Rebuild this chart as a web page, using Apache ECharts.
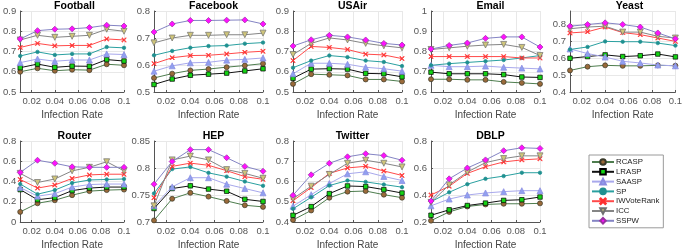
<!DOCTYPE html>
<html>
<head>
<meta charset="utf-8">
<script src="https://cdn.jsdelivr.net/npm/echarts@6/dist/echarts.min.js"></script>
<style>
  html, body { margin: 0; padding: 0; background: #fff; }
  #chart { width: 685px; height: 251px; }
</style>
</head>
<body>
<div id="chart"></div>
<script>
const infectionRate = [0.01, 0.025, 0.04, 0.055, 0.07, 0.085, 0.1];
const methods = ['RCASP', 'LRASP', 'SAASP', 'SP', 'IWVoteRank', 'ICC', 'SSPW'];
const datasetNames = ['Football', 'Facebook', 'USAir', 'Email', 'Yeast', 'Router', 'HEP', 'Twitter', 'DBLP'];

// rows follow the methods order: RCASP, LRASP, SAASP, SP, IWVoteRank, ICC, SSPW
const football = [
  [0.600, 0.617, 0.605, 0.610, 0.608, 0.637, 0.632],
  [0.620, 0.638, 0.622, 0.628, 0.627, 0.660, 0.653],
  [0.645, 0.663, 0.652, 0.658, 0.658, 0.688, 0.685],
  [0.678, 0.698, 0.683, 0.688, 0.688, 0.722, 0.718],
  [0.720, 0.740, 0.728, 0.730, 0.730, 0.762, 0.757],
  [0.757, 0.780, 0.770, 0.775, 0.780, 0.810, 0.800],
  [0.762, 0.803, 0.810, 0.812, 0.818, 0.830, 0.826]
];
const facebook = [
  [0.552, 0.568, 0.580, 0.585, 0.592, 0.598, 0.605],
  [0.528, 0.548, 0.562, 0.566, 0.570, 0.578, 0.586],
  [0.577, 0.597, 0.608, 0.610, 0.618, 0.621, 0.626],
  [0.636, 0.652, 0.664, 0.670, 0.672, 0.679, 0.683],
  [0.605, 0.627, 0.635, 0.636, 0.641, 0.647, 0.651],
  [0.682, 0.700, 0.710, 0.710, 0.712, 0.712, 0.718],
  [0.722, 0.752, 0.765, 0.765, 0.766, 0.767, 0.752]
];
const usair = [
  [0.540, 0.588, 0.585, 0.582, 0.562, 0.562, 0.552],
  [0.568, 0.613, 0.615, 0.613, 0.592, 0.590, 0.575],
  [0.590, 0.642, 0.642, 0.637, 0.622, 0.615, 0.603],
  [0.620, 0.655, 0.680, 0.672, 0.655, 0.648, 0.628],
  [0.655, 0.725, 0.720, 0.710, 0.687, 0.683, 0.665],
  [0.685, 0.740, 0.767, 0.757, 0.740, 0.728, 0.718],
  [0.727, 0.758, 0.780, 0.772, 0.757, 0.740, 0.732]
];
const email = [
  [0.663, 0.663, 0.660, 0.660, 0.650, 0.645, 0.640],
  [0.698, 0.690, 0.690, 0.690, 0.686, 0.674, 0.672],
  [0.732, 0.725, 0.725, 0.728, 0.722, 0.718, 0.714],
  [0.732, 0.740, 0.746, 0.752, 0.758, 0.768, 0.780],
  [0.775, 0.775, 0.775, 0.775, 0.775, 0.768, 0.768],
  [0.810, 0.818, 0.826, 0.832, 0.835, 0.820, 0.780],
  [0.812, 0.830, 0.842, 0.865, 0.872, 0.872, 0.822]
];
const yeast = [
  [0.528, 0.550, 0.558, 0.555, 0.555, 0.558, 0.556],
  [0.600, 0.610, 0.620, 0.610, 0.615, 0.625, 0.608],
  [0.655, 0.628, 0.607, 0.582, 0.572, 0.560, 0.555],
  [0.652, 0.667, 0.700, 0.698, 0.698, 0.690, 0.675],
  [0.750, 0.757, 0.785, 0.752, 0.740, 0.720, 0.700],
  [0.775, 0.785, 0.790, 0.755, 0.755, 0.730, 0.720],
  [0.790, 0.800, 0.810, 0.800, 0.785, 0.750, 0.715]
];
const router = [
  [0.100, 0.185, 0.215, 0.265, 0.305, 0.315, 0.320],
  [0.320, 0.220, 0.240, 0.310, 0.335, 0.345, 0.345],
  [0.340, 0.255, 0.280, 0.345, 0.370, 0.375, 0.375],
  [0.375, 0.275, 0.315, 0.385, 0.415, 0.420, 0.425],
  [0.420, 0.335, 0.365, 0.430, 0.465, 0.472, 0.472],
  [0.480, 0.390, 0.425, 0.505, 0.540, 0.595, 0.505],
  [0.490, 0.610, 0.580, 0.545, 0.540, 0.540, 0.540]
];
const hep = [
  [0.703, 0.743, 0.754, 0.747, 0.739, 0.731, 0.728],
  [0.725, 0.762, 0.767, 0.761, 0.757, 0.742, 0.738],
  [0.730, 0.765, 0.782, 0.782, 0.770, 0.762, 0.754],
  [0.753, 0.798, 0.802, 0.791, 0.784, 0.775, 0.767],
  [0.745, 0.803, 0.809, 0.805, 0.795, 0.784, 0.779],
  [0.730, 0.815, 0.822, 0.815, 0.797, 0.790, 0.781],
  [0.770, 0.812, 0.834, 0.834, 0.819, 0.803, 0.794]
];
const twitter = [
  [0.410, 0.457, 0.520, 0.550, 0.553, 0.535, 0.520],
  [0.433, 0.476, 0.540, 0.578, 0.575, 0.560, 0.543],
  [0.478, 0.535, 0.590, 0.638, 0.648, 0.625, 0.605],
  [0.465, 0.522, 0.580, 0.605, 0.598, 0.585, 0.572],
  [0.505, 0.570, 0.640, 0.667, 0.675, 0.652, 0.630],
  [0.515, 0.577, 0.635, 0.690, 0.705, 0.690, 0.672],
  [0.532, 0.633, 0.690, 0.722, 0.737, 0.728, 0.705]
];
const dblp = [
  [0.210, 0.275, 0.315, 0.330, 0.335, 0.335, 0.338],
  [0.250, 0.290, 0.322, 0.340, 0.360, 0.365, 0.385],
  [0.320, 0.370, 0.400, 0.415, 0.425, 0.432, 0.432],
  [0.350, 0.420, 0.480, 0.520, 0.540, 0.565, 0.565],
  [0.400, 0.465, 0.560, 0.610, 0.645, 0.660, 0.668],
  [0.345, 0.475, 0.570, 0.640, 0.670, 0.690, 0.690],
  [0.355, 0.520, 0.600, 0.660, 0.728, 0.750, 0.745]
];
const allData = [football, facebook, usair, email, yeast, router, hep, twitter, dblp];

// y ranges: [min, max, interval]
const yRanges = [
  [0.5, 0.9, 0.1], [0.5, 0.8, 0.1], [0.5, 0.9, 0.1], [0.6, 1.0, 0.1], [0.4, 0.88, 0.1],
  [0, 0.8, 0.2], [0.7, 0.85, 0.05], [0.4, 0.8, 0.1], [0.2, 0.8, 0.2]
];

const xCross = 'path://M0,1L1,0L5,4L9,0L10,1L6,5L10,9L9,10L5,6L1,10L0,9L4,5Z';
const styles = {
  RCASP: { line: '#4e7d4e', symbol: 'circle', size: 5, fill: '#9a6a3a', border: '#3a3a2a' },
  LRASP: { line: '#111111', symbol: 'rect', size: 4.5, fill: '#14d414', border: '#000000' },
  SAASP: { line: '#a8a8ec', symbol: 'triangle', size: 6, fill: '#90a0f0', border: '#8a8ae0' },
  SP: { line: '#2aa0a0', symbol: 'circle', size: 3.5, fill: '#1f9090', border: '#1f9090' },
  IWVoteRank: { line: '#ff4a4a', symbol: xCross, size: 4.5, fill: '#ff3030', border: '#ff3030' },
  ICC: { line: '#858585', symbol: 'triangle', size: 6, fill: '#cfc57a', border: '#707070', rotate: 180 },
  SSPW: { line: '#8484c4', symbol: 'diamond', size: 6, fill: '#ff10ff', border: '#9a30a0' }
};

const colLeft = [15, 154, 293, 431, 570];
const rowTop = [11, 141];
const plotW = 109, plotH = 81;
const font = '"Liberation Sans", Arial, sans-serif';

const grids = [], xAxes = [], yAxes = [], titles = [], series = [];
datasetNames.forEach((name, i) => {
  const left = colLeft[i % 5];
  const top = rowTop[Math.floor(i / 5)];
  grids.push({ left: left, top: top, width: plotW, height: plotH, show: false });
  titles.push({
    text: name, left: left + plotW / 2, top: top - 15, textAlign: 'center',
    textStyle: { fontFamily: font, fontSize: 10.5, fontWeight: 'bold', color: '#000' }
  });
  xAxes.push({
    gridIndex: i, type: 'value', min: 0.01, max: 0.1, splitNumber: 5,
    name: 'Infection Rate', nameLocation: 'middle', nameGap: 18,
    nameTextStyle: { fontFamily: font, fontSize: 10, color: '#444' },
    axisLine: { lineStyle: { color: '#555', width: 1 } },
    axisTick: { inside: true, length: 2, lineStyle: { color: '#555' }, customValues: [0.02, 0.04, 0.06, 0.08, 0.1] },
    axisLabel: {
      fontFamily: font, fontSize: 9.5, color: '#555', margin: 4,
      customValues: [0.02, 0.04, 0.06, 0.08, 0.1],
      formatter: v => String(+v.toFixed(2))
    },
    splitLine: { show: true, lineStyle: { color: '#e8e8e8', width: 1 } }
  });
  const r = yRanges[i];
  yAxes.push({
    gridIndex: i, type: 'value', min: r[0], max: r[1], interval: r[2],
    axisLine: { show: true, lineStyle: { color: '#555', width: 1 } },
    axisTick: { show: true, inside: true, length: 2, lineStyle: { color: '#555' } },
    axisLabel: {
      fontFamily: font, fontSize: 9.5, color: '#555', margin: 4,
      showMaxLabel: name !== 'Yeast',
      formatter: v => String(+v.toFixed(2))
    },
    splitLine: { show: true, lineStyle: { color: '#e8e8e8', width: 1 } }
  });
  methods.forEach((m, k) => {
    const s = styles[m];
    series.push({
      name: m, type: 'line', xAxisIndex: i, yAxisIndex: i,
      data: infectionRate.map((x, j) => [x, allData[i][k][j]]),
      symbol: s.symbol, symbolSize: s.size, symbolRotate: s.rotate || 0,
      showAllSymbol: true, animation: false, z: 2 + k,
      lineStyle: { color: s.line, width: 1 },
      itemStyle: { color: s.fill, borderColor: s.border, borderWidth: 0.7 }
    });
  });
});

const chart = echarts.init(document.getElementById('chart'), null, { renderer: 'canvas' });
chart.setOption({
  backgroundColor: '#fff',
  animation: false,
  title: titles,
  grid: grids,
  xAxis: xAxes,
  yAxis: yAxes,
  legend: {
    data: methods, orient: 'vertical', left: 589, top: 155,
    padding: [3, 4, 3, 2], itemGap: 1.8, itemWidth: 22, itemHeight: 7,
    borderColor: '#9a9a9a', borderWidth: 1, backgroundColor: '#fff',
    textStyle: { fontFamily: font, fontSize: 7.8, color: '#222', padding: [0, 0, 0, -3] },
    selectedMode: false
  },
  series: series
});
</script>
</body>
</html>
